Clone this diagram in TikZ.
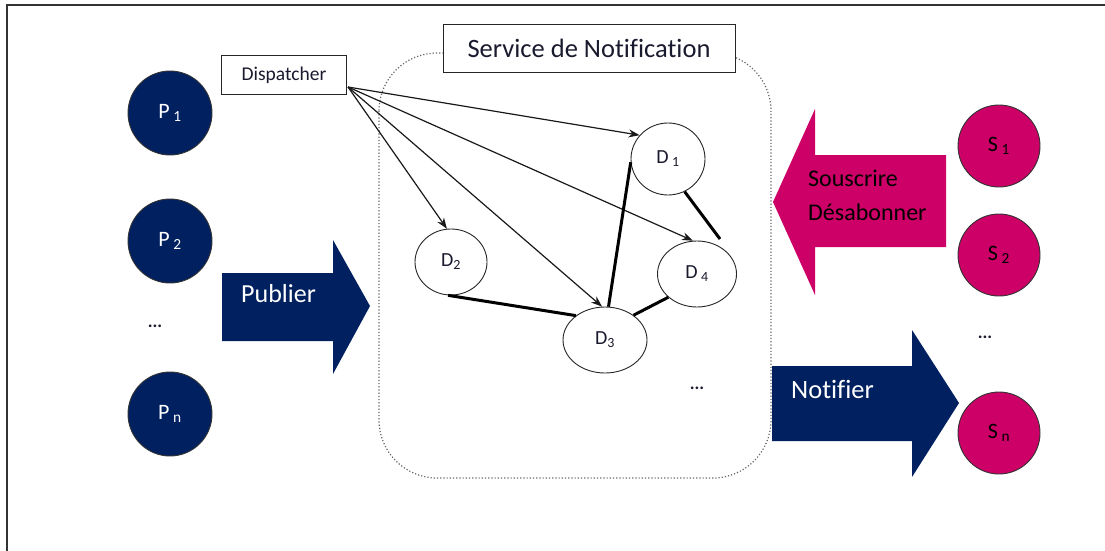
\documentclass[tikz,border=0pt]{standalone}
\usepackage{fontspec}
\setmainfont[Ligatures=NoCommon]{Carlito}
\usetikzlibrary{shapes.geometric,arrows.meta,calc}
\definecolor{navy}{HTML}{002060}
\definecolor{mag}{HTML}{CC0066}
\definecolor{dtext}{HTML}{1A1A2E}
\tikzset{
  pnode/.style={circle,draw=black!80,line width=0.9pt,fill=navy,minimum size=84pt,inner sep=0pt,text=white,font=\fontsize{22}{24}\selectfont},
  snode/.style={circle,draw=black!80,line width=0.9pt,fill=mag,minimum size=82pt,inner sep=0pt,text=black,font=\fontsize{22}{24}\selectfont},
  dnode/.style={ellipse,draw=black!85,line width=0.9pt,fill=white,inner sep=0pt,text=dtext,font=\fontsize{20}{22}\selectfont},
  labelbox/.style={draw=black!85,line width=1pt,fill=white,inner sep=0pt},
  thinarrow/.style={line width=1.2pt,black!90,-{Stealth[length=11pt,width=8pt]}},
  thickline/.style={line width=3pt,black},
  dots/.style={font=\fontsize{18}{20}\selectfont\bfseries,text=dtext,inner sep=0pt}
}
\begin{document}
\begin{tikzpicture}[x=1pt,y=-1pt]
\useasboundingbox (0,0) rectangle (1105,551);
% outer frame
\draw[line width=1.3pt,black!80] (7,560) -- (7,5) -- (1110,5);
% service area
\draw[black!60,dotted,line width=1.2pt,rounded corners=58pt] (379,53) rectangle (771,478);
\node[labelbox,minimum width=292pt,minimum height=47pt,font=\fontsize{26.5}{28}\selectfont,text=dtext] (svc) at (589,48.5) {Service de Notification};
\node[labelbox,minimum width=125pt,minimum height=39pt,font=\fontsize{19.5}{21}\selectfont,text=dtext] (disp) at (284,75) {Dispatcher};
% publishers
\node[pnode] (p1) at (170,113) {P\,\textsubscript{1}};
\node[pnode] (p2) at (170,241) {P\,\textsubscript{2}};
\node[dots] (pdots) at (155,326) {...};
\node[pnode] (pn) at (170,414) {P\,\textsubscript{n}};
% subscribers
\node[snode] (s1) at (999,146) {S\,\textsubscript{1}};
\node[snode] (s2) at (999,255) {S\,\textsubscript{2}};
\node[dots] (sdots) at (985,337) {...};
\node[snode] (sn) at (999,433) {S\,\textsubscript{n}};
% block arrows
\fill[navy] (222,273) -- (333,273) -- (333,240) -- (370,306) -- (333,374) -- (333,341) -- (222,341) -- cycle;
\node[anchor=west,text=white,font=\fontsize{26}{28}\selectfont,inner sep=0pt] (pub) at (241,294) {Publier};
\fill[navy] (772,366) -- (912,366) -- (912,330) -- (959,403) -- (912,477) -- (912,441) -- (772,441) -- cycle;
\node[anchor=west,text=white,font=\fontsize{26.5}{28}\selectfont,inner sep=0pt] (notif) at (791,389) {Notifier};
\fill[mag] (773,202) -- (815,109) -- (815,155) -- (946,155) -- (946,247) -- (815,247) -- (815,295) -- cycle;
\node[anchor=west,text=black,font=\fontsize{24}{26}\selectfont,inner sep=0pt] (sous) at (808,178) {Souscrire};
\node[anchor=west,text=black,font=\fontsize{24}{26}\selectfont,inner sep=0pt] (desab) at (808,212) {Désabonner};
% dispatchers
\node[dnode,minimum width=74pt,minimum height=72pt] (d1) at (668,159) {D\,\textsubscript{1}};
\node[dnode,minimum width=72pt,minimum height=66pt] (d2) at (451,262) {D\textsubscript{2}};
\node[dnode,minimum width=84pt,minimum height=66pt] (d3) at (605,340) {D\textsubscript{3}};
\node[dnode,minimum width=79pt,minimum height=66pt] (d4) at (697,274) {D\,\textsubscript{4}};
\node[dots] (ddots) at (697,388) {...};
% connectors
\coordinate (src) at (348,87);
\draw[thinarrow] (src) -- (d1.140);
\draw[thinarrow] (src) -- (d2.97);
\draw[thinarrow] (src) -- (d3.95);
\draw[thinarrow] (src) -- (d4.97);
\draw[thickline] (d2.265) -- (d3.140);
\draw[thickline] (d3.84) -- (d1.185);
\draw[thickline] (d3.41) -- (d4.219);
\coordinate (d1end) at (720,239);
\draw[thickline] (d1.297) -- (d1end);
\end{tikzpicture}
\end{document}
